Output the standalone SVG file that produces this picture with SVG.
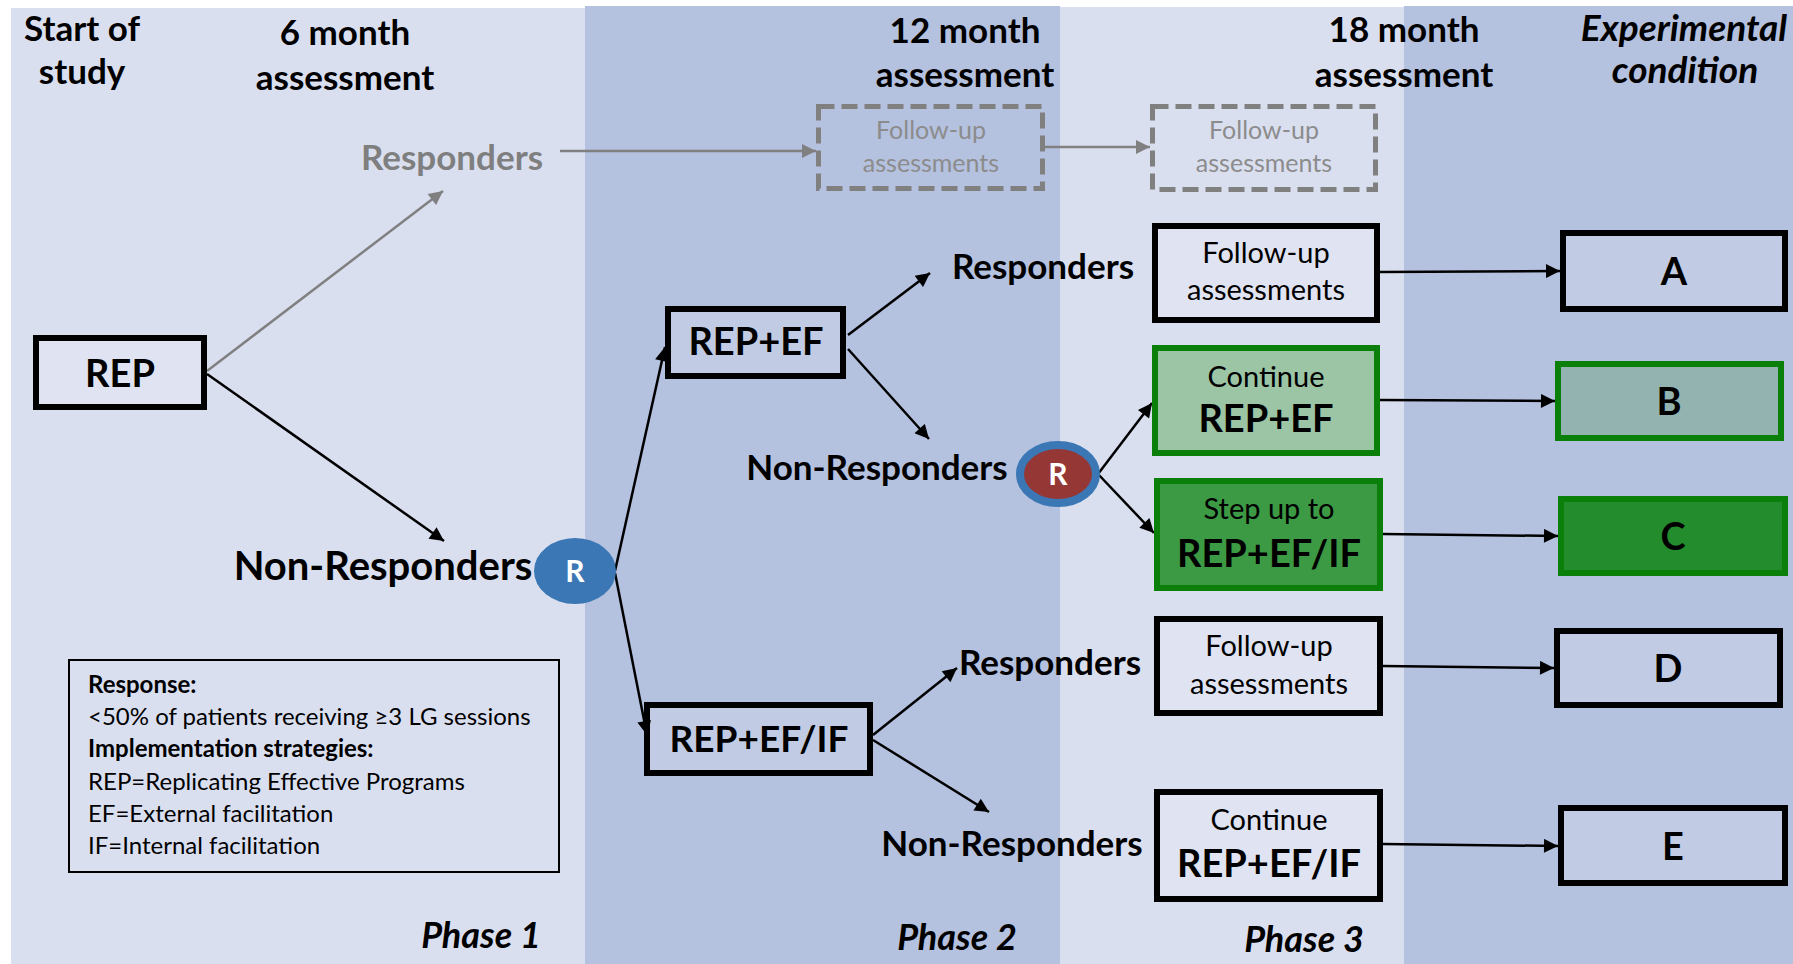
<svg xmlns="http://www.w3.org/2000/svg" width="1793" height="964" viewBox="0 0 1793 964">
  <style>
    .hdr { font-family: Lato, "Liberation Sans", sans-serif; font-weight: bold; font-size: 35px; fill: #000; text-anchor: middle; }
    .hdri { font-family: Lato, "Liberation Sans", sans-serif; font-weight: bold; font-style: italic; font-size: 37px; fill: #000; text-anchor: middle; }
    .phase { font-family: Lato, "Liberation Sans", sans-serif; font-weight: bold; font-style: italic; font-size: 36px; fill: #000; }
    .lbl { font-family: Lato, "Liberation Sans", sans-serif; font-weight: bold; font-size: 35px; fill: #000; text-anchor: middle; }
    .big { font-family: Lato, "Liberation Sans", sans-serif; font-weight: bold; font-size: 38px; fill: #000; text-anchor: middle; }
    .reg { font-family: Lato, "Liberation Sans", sans-serif; font-size: 29px; fill: #000; text-anchor: middle; }
    .ghost { font-family: Lato, "Liberation Sans", sans-serif; font-size: 25px; fill: #8c8c8c; text-anchor: middle; }
    .leg { font-family: Lato, "Liberation Sans", sans-serif; font-size: 24px; fill: #000; }
    .legb { font-family: Lato, "Liberation Sans", sans-serif; font-size: 24px; font-weight: bold; fill: #000; }
    .box { stroke: #000; stroke-width: 6; fill: #ffffff; fill-opacity: 0.18; }
    .gbox { stroke: #0a7f0a; stroke-width: 6; }
    .dash { stroke: #808080; stroke-width: 5; fill: none; stroke-dasharray: 16 7; }
    .ln { stroke: #000; stroke-width: 2.5; fill: none; marker-end: url(#ah); }
    .gln { stroke: #808080; stroke-width: 2.5; fill: none; marker-end: url(#gah); }
    .rtxt { font-family: Lato, "Liberation Sans", sans-serif; font-weight: bold; font-size: 30px; fill: #fff; text-anchor: middle; }
  </style>
  <defs>
    <marker id="ah" viewBox="0 0 10 10" refX="10" refY="5" markerWidth="16" markerHeight="14" markerUnits="userSpaceOnUse" orient="auto">
      <path d="M0,0 L10,5 L0,10 z" fill="#000"/>
    </marker>
    <marker id="gah" viewBox="0 0 10 10" refX="10" refY="5" markerWidth="16" markerHeight="14" markerUnits="userSpaceOnUse" orient="auto">
      <path d="M0,0 L10,5 L0,10 z" fill="#808080"/>
    </marker>
  </defs>

  <!-- background bands -->
  <rect x="0" y="0" width="1793" height="964" fill="#ffffff"/>
  <rect x="11" y="8" width="574" height="956" fill="#dadff0"/>
  <rect x="585" y="6" width="475" height="958" fill="#b4c1df"/>
  <rect x="1060" y="7" width="344" height="957" fill="#dadff0"/>
  <rect x="1404" y="6" width="389" height="958" fill="#b4c1df"/>

  <!-- column headers -->
  <g id="headers">
    <text class="hdr" x="82" y="41">Start of</text>
    <text class="hdr" x="82" y="84">study</text>
    <text class="hdr" x="345" y="45">6 month</text>
    <text class="hdr" x="345" y="90">assessment</text>
    <text class="hdr" x="965" y="43">12 month</text>
    <text class="hdr" x="965" y="87">assessment</text>
    <text class="hdr" x="1404" y="42">18 month</text>
    <text class="hdr" x="1404" y="87">assessment</text>
    <text class="hdri" x="1684" y="41">Experimental</text>
    <text class="hdri" x="1685" y="83">condition</text>
  </g>

  <g id="phases">
    <text class="phase" x="541" y="948" text-anchor="end">Phase 1</text>
    <text class="phase" x="1017" y="950" text-anchor="end">Phase 2</text>
    <text class="phase" x="1364" y="952" text-anchor="end">Phase 3</text>
  </g>

  <!-- connectors -->
  <g id="connectors">
    <line class="gln" x1="207" y1="371" x2="443" y2="191"/>
    <line class="gln" x1="560" y1="151" x2="816" y2="151"/>
    <line class="gln" x1="1045" y1="147" x2="1150" y2="147"/>
    <line class="ln" x1="207" y1="374" x2="444" y2="541"/>
    <line class="ln" x1="615" y1="571" x2="665" y2="347"/>
    <line class="ln" x1="615" y1="573" x2="647" y2="735"/>
    <line class="ln" x1="848" y1="335" x2="930" y2="273"/>
    <line class="ln" x1="848" y1="349" x2="929" y2="439"/>
    <line class="ln" x1="1098" y1="474" x2="1152" y2="403"/>
    <line class="ln" x1="1098" y1="474" x2="1154" y2="533"/>
    <line class="ln" x1="873" y1="735" x2="957" y2="668"/>
    <line class="ln" x1="873" y1="740" x2="989" y2="812"/>
    <line class="ln" x1="1380" y1="272" x2="1560" y2="271"/>
    <line class="ln" x1="1380" y1="400" x2="1555" y2="401"/>
    <line class="ln" x1="1383" y1="534" x2="1558" y2="536"/>
    <line class="ln" x1="1383" y1="666" x2="1554" y2="668"/>
    <line class="ln" x1="1383" y1="844" x2="1558" y2="846"/>
  </g>

  <!-- phase 1 -->
  <g id="rep">
    <rect class="box" x="36" y="338" width="168" height="69"/>
    <text class="big" x="120" y="387">REP</text>
  </g>
  <g id="responders-6m">
    <text class="lbl" x="452" y="170" style="fill:#7f7f7f">Responders</text>
  </g>
  <g id="nonresponders-6m">
    <text class="lbl" x="383" y="580" style="font-size:40px">Non-Responders</text>
  </g>
  <g id="rand-1">
    <ellipse cx="575" cy="571" rx="41" ry="33" fill="#3a77b4"/>
    <text class="rtxt" x="575" y="582">R</text>
  </g>
  <g id="legend">
    <rect x="69" y="660" width="490" height="212" fill="none" stroke="#000" stroke-width="2"/>
    <text class="legb" x="88" y="693">Response:</text>
    <text class="leg" x="88" y="725">&lt;50% of patients receiving ≥3 LG sessions</text>
    <text class="legb" x="88" y="757">Implementation strategies:</text>
    <text class="leg" x="88" y="790">REP=Replicating Effective Programs</text>
    <text class="leg" x="88" y="822">EF=External facilitation</text>
    <text class="leg" x="88" y="854">IF=Internal facilitation</text>
  </g>

  <!-- phase 2 -->
  <g id="followup-12m">
    <rect class="dash" x="818.5" y="106.5" width="224" height="82"/>
    <text class="ghost" x="931" y="139">Follow-up</text>
    <text class="ghost" x="931" y="172">assessments</text>
  </g>
  <g id="rep-ef">
    <rect class="box" x="668" y="309" width="175" height="67"/>
    <text class="big" x="756" y="355">REP+EF</text>
  </g>
  <g id="rep-ef-if">
    <rect class="box" x="647" y="705" width="223" height="68"/>
    <text class="big" x="759" y="752" style="font-size:37px">REP+EF/IF</text>
  </g>
  <g id="responders-ef">
    <text class="lbl" x="1043" y="279">Responders</text>
  </g>
  <g id="nonresponders-ef">
    <text class="lbl" x="877" y="480">Non-Responders</text>
  </g>
  <g id="rand-2">
    <ellipse cx="1058" cy="474" rx="38" ry="29" fill="#953735" stroke="#3a77b4" stroke-width="8"/>
    <text class="rtxt" x="1058" y="485">R</text>
  </g>
  <g id="responders-efif">
    <text class="lbl" x="1050" y="675">Responders</text>
  </g>
  <g id="nonresponders-efif">
    <text class="lbl" x="1012" y="856">Non-Responders</text>
  </g>

  <!-- phase 3 -->
  <g id="followup-18m">
    <rect class="dash" x="1152.5" y="106.5" width="223" height="83"/>
    <text class="ghost" x="1264" y="139">Follow-up</text>
    <text class="ghost" x="1264" y="172">assessments</text>
  </g>
  <g id="followup-a">
    <rect class="box" x="1155" y="226" width="222" height="94"/>
    <text class="reg" x="1266" y="263">Follow-up</text>
    <text class="reg" x="1266" y="300">assessments</text>
  </g>
  <g id="continue-ef">
    <rect class="gbox" x="1155" y="348" width="222" height="105" fill="#9bc5a5"/>
    <text class="reg" x="1266" y="387">Continue</text>
    <text class="big" x="1266" y="432">REP+EF</text>
  </g>
  <g id="stepup">
    <rect class="gbox" x="1157" y="481" width="223" height="107" fill="#3c9a44"/>
    <text class="reg" x="1269" y="519">Step up to</text>
    <text class="big" x="1269" y="567">REP+EF/IF</text>
  </g>
  <g id="followup-d">
    <rect class="box" x="1157" y="619" width="223" height="94"/>
    <text class="reg" x="1269" y="656">Follow-up</text>
    <text class="reg" x="1269" y="694">assessments</text>
  </g>
  <g id="continue-efif">
    <rect class="box" x="1157" y="792" width="223" height="107"/>
    <text class="reg" x="1269" y="830">Continue</text>
    <text class="big" x="1269" y="877">REP+EF/IF</text>
  </g>

  <!-- experimental conditions -->
  <g id="cond-a">
    <rect class="box" x="1563" y="233" width="222" height="76"/>
    <text class="big" x="1674" y="285">A</text>
  </g>
  <g id="cond-b">
    <rect class="gbox" x="1558" y="364" width="223" height="74" fill="#93b3b1"/>
    <text class="big" x="1669" y="415">B</text>
  </g>
  <g id="cond-c">
    <rect class="gbox" x="1561" y="499" width="224" height="74" fill="#238d2d"/>
    <text class="big" x="1673" y="550">C</text>
  </g>
  <g id="cond-d">
    <rect class="box" x="1557" y="631" width="223" height="74"/>
    <text class="big" x="1668" y="682">D</text>
  </g>
  <g id="cond-e">
    <rect class="box" x="1561" y="808" width="224" height="75"/>
    <text class="big" x="1673" y="860">E</text>
  </g>
</svg>
